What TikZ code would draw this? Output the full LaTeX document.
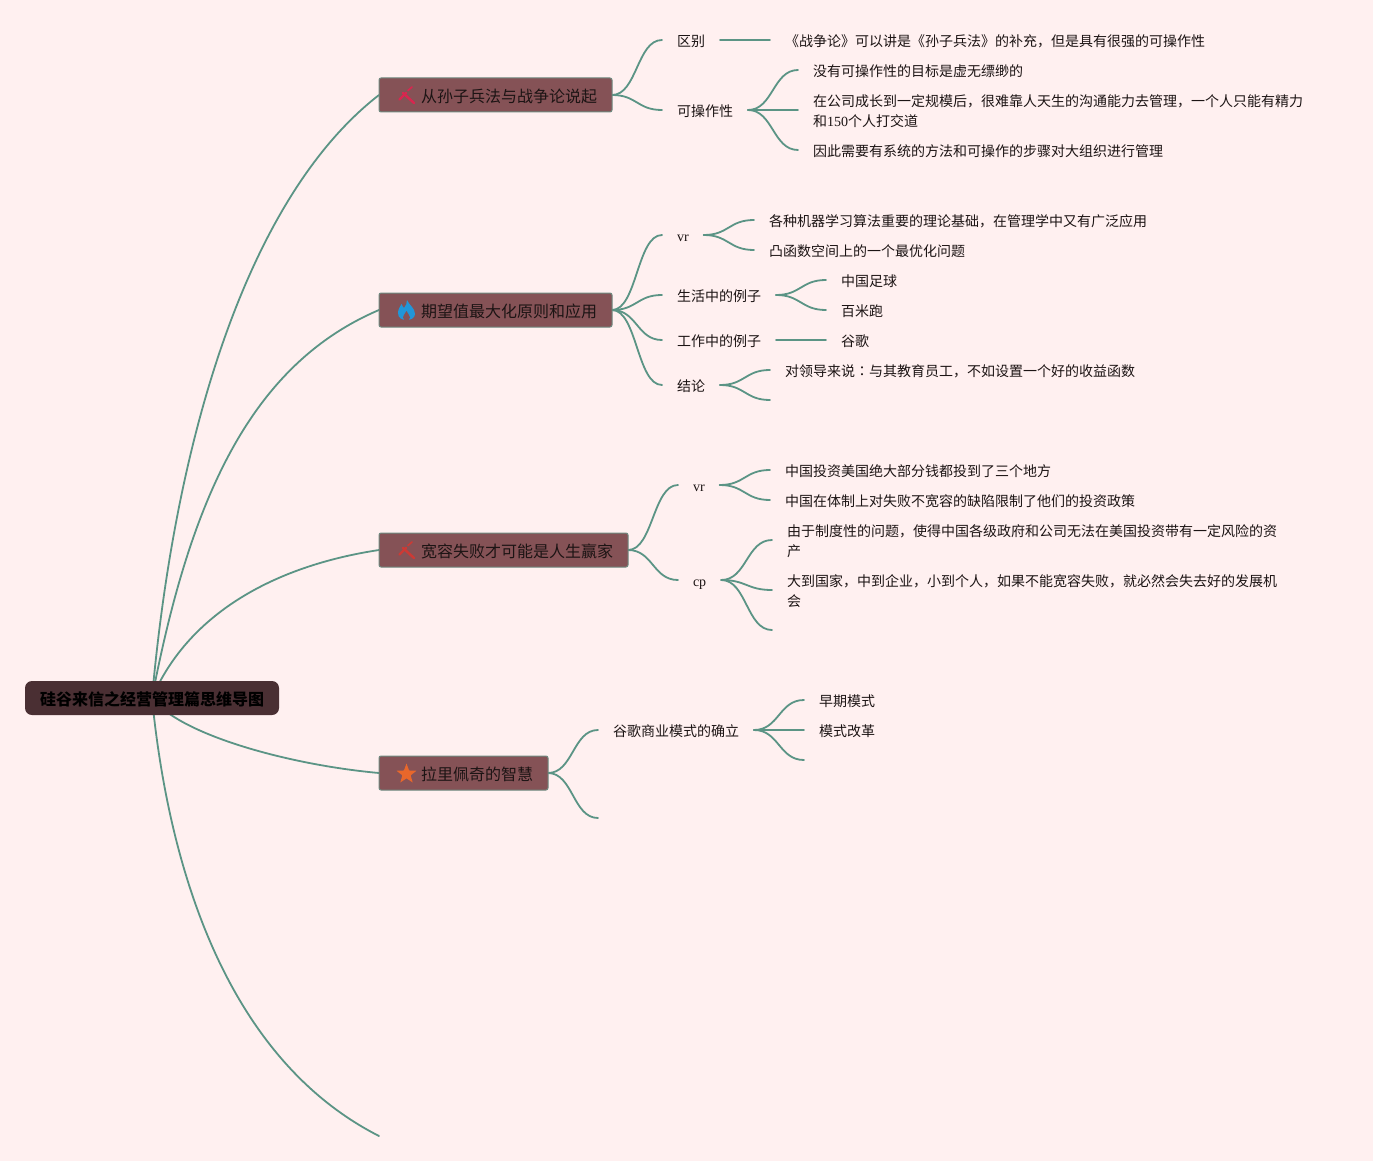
\documentclass[tikz,border=0pt]{standalone}
\usepackage{fontspec}
\setmainfont{Noto Sans CJK SC}
\newfontfamily\lat{Liberation Serif}
\newfontfamily\tc{Noto Sans CJK TC}
\usetikzlibrary{calc,shapes.geometric}
\definecolor{pagebg}{HTML}{FFF0F0}
\definecolor{linec}{HTML}{5B9485}
\definecolor{mainc}{HTML}{855256}
\definecolor{rootc}{HTML}{4A2F33}
\definecolor{edgec}{HTML}{6F8A80}
\definecolor{txt}{HTML}{1C1414}
\definecolor{flame}{HTML}{2196D8}
\definecolor{starc}{HTML}{E8672B}
\pgfdeclarelayer{back}\pgfdeclarelayer{conn}
\pgfsetlayers{back,conn,main}
\tikzset{
 x=1pt,y=-1pt,
 conn/.style={draw=linec,line width=1.8pt,line cap=round},
 br/.style={to path={.. controls ($(\tikztostart)!0.5!(\tikztotarget|-\tikztostart)$) and ($(\tikztotarget)!0.5!(\tikztostart|-\tikztotarget)$) .. (\tikztotarget)}},
 sub/.style={anchor=west,inner xsep=15pt,inner ysep=0pt,outer sep=0pt,text=txt,font=\fontsize{14}{20}\selectfont,align=left,text height=13pt,text depth=0pt},
 twoline/.style={sub,text height=34pt,text depth=0pt},
 twolinelow/.style={sub,text height=33pt,text depth=0pt},
 mainbox/.style={anchor=west,fill=mainc,draw=edgec,line width=1pt,rounded corners=2pt,inner xsep=15pt,inner ysep=0pt,outer sep=0pt,minimum height=34pt,text=txt,font=\fontsize{16}{20}\selectfont,text height=15.5pt,text depth=0pt},
 rootbox/.style={fill=rootc,rounded corners=7pt,inner xsep=15pt,inner ysep=0pt,outer sep=0pt,minimum height=34pt,text=black,font=\fontsize{16}{20}\selectfont\bfseries,text height=15.5pt,text depth=0pt},
}
\begin{document}
\begin{tikzpicture}
\begin{pgfonlayer}{back}
\fill[pagebg] (0,0) rectangle (1373,1161);
\end{pgfonlayer}
\useasboundingbox (0,0) rectangle (1373,1161);

\node[rootbox] (root) at (152,698) {硅谷来信之经营管理篇思维导图};
\node[mainbox] (m1) at (379,95) {\hspace{27pt}从孙子兵法与战争论说起};
\node[mainbox] (m2) at (379,310) {\hspace{27pt}期望值最大化原则和应用};
\node[mainbox] (m3) at (379,550) {\hspace{27pt}宽容失败才可能是人生赢家};
\node[mainbox] (m4) at (379,773) {\hspace{27pt}拉里佩奇的智慧};
\coordinate (m5) at (379,1136);

% icons
\foreach \n/\c in {m1/D9264F,m3/CC3A35}{
  \definecolor{ic}{HTML}{\c}
  \begin{scope}[shift={(\n.west)}]
  \draw[ic,line width=2.4pt,line cap=round] (24,-2) -- (35,8);
  \draw[ic,line width=2.2pt,line cap=round] (20.5,4.5) -- (27,-2);
  \draw[ic,line width=1.6pt,line cap=round] (29,-4.5) -- (33,-8);
  \end{scope}
}
\begin{scope}[shift={(m2.west)}]
\fill[flame] (28,-10) .. controls (30,-5) and (36,-2) .. (36,4)
  .. controls (36,8) and (32,10) .. (27.5,10)
  .. controls (23,10) and (19,8) .. (19,3)
  .. controls (19,-1) and (21,-3) .. (22.5,-6)
  .. controls (23.5,-4) and (24,-3) .. (25,-2)
  .. controls (27,-4) and (28,-7) .. (28,-10) -- cycle;
\fill[mainc] (27.5,1) .. controls (25,5) and (24,6) .. (24,7.5)
  .. controls (24,9.5) and (26,10.5) .. (27.5,10.5)
  .. controls (29,10.5) and (31,9.5) .. (31,7.5)
  .. controls (31,6) and (29,4) .. (27.5,1) -- cycle;
\end{scope}
\node[star,star points=5,star point ratio=2.4,fill=starc,inner sep=0pt,minimum size=21pt] (st) at ($(m4.west)+(27.5,1)$) {};

% first branch
\node[sub] (a1) at (662,40) {区别};
\node[sub] (a2) at (662,110) {可操作性};
\node[sub] (a11) at (770,40) {《战争论》可以讲是《孙子兵法》的补充，但是具有很强的可操作性};
\node[sub] (a21) at (798,70) {没有可操作性的目标是虚无缥缈的};
\node[twoline] (a22) at (798,110) {在公司成长到一定规模后，很难靠人天生的沟通能力去管理，一个人只能有精力\\和{\lat 150}个人打交道};
\node[sub] (a23) at (798,150) {因此需要有系统的方法和可操作的步骤对大组织进行管理};

% second branch
\node[sub] (b1) at (662,235) {\lat vr};
\node[sub] (b2) at (662,295) {生活中的例子};
\node[sub] (b3) at (662,340) {工作中的例子};
\node[sub] (b4) at (662,385) {结论};
\node[sub] (b11) at (754,220) {各种机器学习算法重要的理论基础，在管理学中又有广泛应用};
\node[sub] (b12) at (754,250) {凸函数空间上的一个最优化问题};
\node[sub] (b21) at (826,280) {中国足球};
\node[sub] (b22) at (826,310) {百米跑};
\node[sub] (b31) at (826,340) {谷歌};
\node[sub] (b41) at (770,370) {对领导来说{\tc ：}与其教育员工，不如设置一个好的收益函数};
\coordinate (b42) at (770,400);

% third branch
\node[sub] (c1) at (678,485) {\lat vr};
\node[sub] (c2) at (678,580) {\lat cp};
\node[sub] (c11) at (770,470) {中国投资美国绝大部分钱都投到了三个地方};
\node[sub] (c12) at (770,500) {中国在体制上对失败不宽容的缺陷限制了他们的投资政策};
\node[twolinelow] (c21) at (772,540) {由于制度性的问题，使得中国各级政府和公司无法在美国投资带有一定风险的资\\产};
\node[twolinelow] (c22) at (772,590) {大到国家，中到企业，小到个人，如果不能宽容失败，就必然会失去好的发展机\\会};
\coordinate (c23) at (772,630);

% fourth branch
\node[sub] (d1) at (598,730) {谷歌商业模式的确立};
\coordinate (d2) at (598,818);
\node[sub] (d11) at (804,700) {早期模式};
\node[sub] (d12) at (804,730) {模式改革};
\coordinate (d13) at (804,760);

\begin{pgfonlayer}{conn}
\draw[conn] (root.center) .. controls (176,430) and (250,195) .. (m1.west);
\draw[conn] (root.center) .. controls (190,500) and (250,365) .. (m2.west);
\draw[conn] (root.center) .. controls (190,610) and (280,565) .. (m3.west);
\draw[conn] (root.center) .. controls (180,735) and (290,765) .. (m4.west);
\draw[conn] (root.center) .. controls (165,830) and (210,1050) .. (m5);
\foreach \p/\c in {m1/a1,m1/a2,a2/a21,a2/a22,a2/a23,a1/a11,
                   m2/b1,m2/b2,m2/b3,m2/b4,b1/b11,b1/b12,b2/b21,b2/b22,b3/b31,b4/b41,b4/b42,
                   m3/c1,m3/c2,c1/c11,c1/c12,c2/c21,c2/c22,c2/c23,
                   m4/d1,m4/d2,d1/d11,d1/d12,d1/d13}{
  \draw[conn] (\p.east) to[br] (\c.west);
}
\end{pgfonlayer}
\end{tikzpicture}
\end{document}
